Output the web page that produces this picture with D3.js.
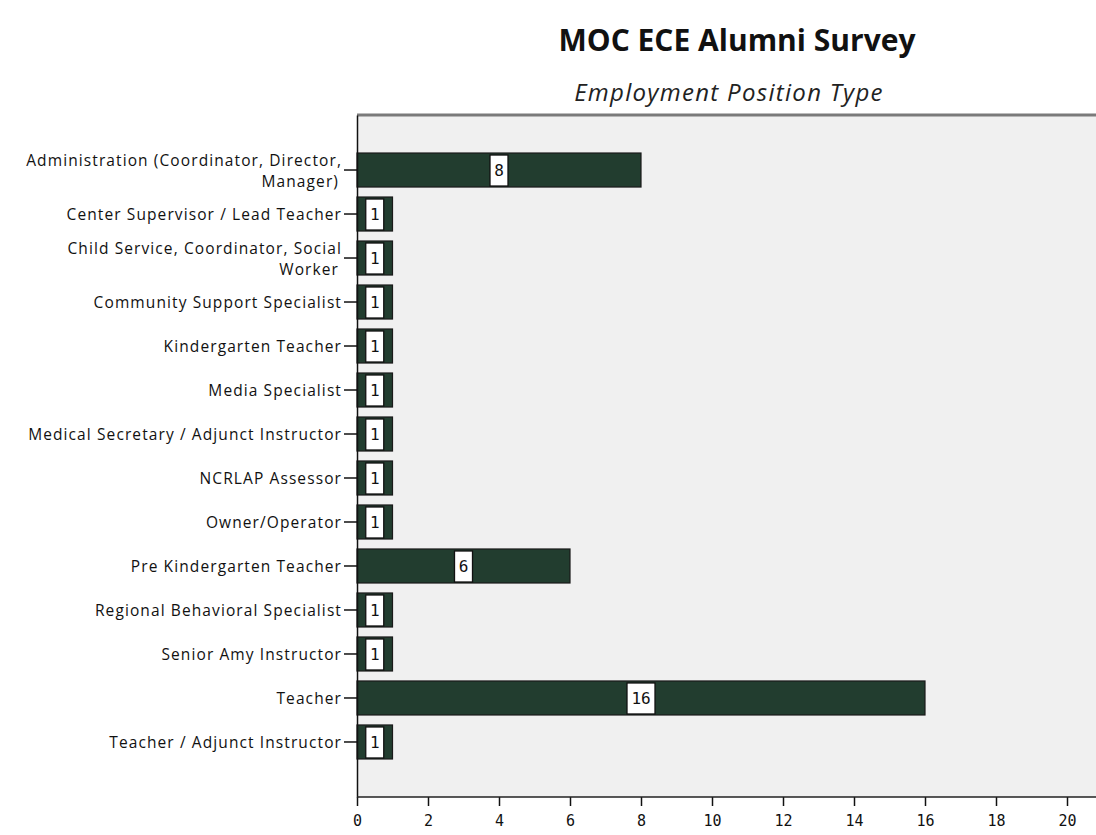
<!DOCTYPE html>
<html>
<head>
<meta charset="utf-8">
<script src="https://cdn.jsdelivr.net/npm/d3@7"></script>
<style>
  html, body { margin: 0; padding: 0; background: #ffffff; }
  svg { display: block; }
</style>
</head>
<body>
<svg id="chart" width="1096" height="835"></svg>
<script>
const categories = [
  "Administration (Coordinator, Director, Manager)",
  "Center Supervisor / Lead Teacher",
  "Child Service, Coordinator, Social Worker",
  "Community Support Specialist",
  "Kindergarten Teacher",
  "Media Specialist",
  "Medical Secretary / Adjunct Instructor",
  "NCRLAP Assessor",
  "Owner/Operator",
  "Pre Kindergarten Teacher",
  "Regional Behavioral Specialist",
  "Senior Amy Instructor",
  "Teacher",
  "Teacher / Adjunct Instructor"
];
const labelLines = [
  ["Administration (Coordinator, Director,", "Manager)"],
  ["Center Supervisor / Lead Teacher"],
  ["Child Service, Coordinator, Social", "Worker"],
  ["Community Support Specialist"],
  ["Kindergarten Teacher"],
  ["Media Specialist"],
  ["Medical Secretary / Adjunct Instructor"],
  ["NCRLAP Assessor"],
  ["Owner/Operator"],
  ["Pre Kindergarten Teacher"],
  ["Regional Behavioral Specialist"],
  ["Senior Amy Instructor"],
  ["Teacher"],
  ["Teacher / Adjunct Instructor"]
];
const counts = [8, 1, 1, 1, 1, 1, 1, 1, 1, 6, 1, 1, 16, 1];
const xTicks = [0, 2, 4, 6, 8, 10, 12, 14, 16, 18, 20];
const titleText = "MOC ECE Alumni Survey";
const subtitleText = "Employment Position Type";

(function () {
const svg = d3.select("#chart");
const pLeft = 357, pRight = 1110, pTop = 115, pBottom = 797;
const font = "'Open Sans', sans-serif";

const x = d3.scaleLinear().domain([0, 20]).range([pLeft, 1067]);
const y = d3.scaleBand().domain(categories).range([pTop, pBottom])
  .paddingInner(0.227).paddingOuter(0.864);

svg.append("rect").attr("x", pLeft).attr("y", pTop)
  .attr("width", pRight - pLeft).attr("height", pBottom - pTop)
  .attr("fill", "#f0f0f0");
svg.append("line").attr("x1", pLeft).attr("x2", 1096).attr("y1", pTop).attr("y2", pTop)
  .attr("stroke", "#7a7a7a").attr("stroke-width", 3);

svg.append("text").attr("x", 737).attr("y", 51).attr("text-anchor", "middle")
  .attr("font-family", "'Open Sans', sans-serif").attr("font-weight", "bold")
  .attr("font-size", 30).attr("letter-spacing", 0).attr("fill", "#111").text(titleText);
svg.append("text").attr("x", 729).attr("y", 101).attr("text-anchor", "middle")
  .attr("font-family", "'Open Sans', sans-serif").attr("font-style", "italic")
  .attr("font-size", 24).attr("letter-spacing", 1.3).attr("fill", "#222").text(subtitleText);

svg.append("g").selectAll("rect").data(categories).join("rect")
  .attr("x", x(0)).attr("y", d => y(d))
  .attr("width", (d, i) => x(counts[i]) - x(0))
  .attr("height", y.bandwidth())
  .attr("fill", "#223d2f").attr("stroke", "#1a1a1a").attr("stroke-width", 1.2);

const lab = svg.append("g").selectAll("g").data(categories).join("g")
  .attr("transform", (d, i) => `translate(${x(counts[i] / 2)},${y(d) + y.bandwidth() / 2})`);
lab.append("rect")
  .attr("x", (d, i) => counts[i] >= 10 ? -14 : -9)
  .attr("width", (d, i) => counts[i] >= 10 ? 28 : 18)
  .attr("y", -15).attr("height", 31)
  .attr("fill", "#ffffff").attr("stroke", "#111").attr("stroke-width", 1.3);
lab.append("text").attr("text-anchor", "middle").attr("dy", "0.36em")
  .attr("font-family", "'DejaVu Sans Mono', monospace").attr("font-size", 16)
  .attr("fill", "#111").text((d, i) => counts[i]);

const yAxis = d3.axisLeft(y).tickSize(13).tickSizeOuter(0).tickFormat("");
const gy = svg.append("g").attr("transform", `translate(${pLeft},0)`).call(yAxis);
gy.select(".domain").attr("stroke", "#111").attr("stroke-width", 1.5);
gy.selectAll(".tick line").attr("stroke", "#111").attr("stroke-width", 1.5);

const lines = [];
categories.forEach((c, i) => {
  const n = labelLines[i].length;
  labelLines[i].forEach((line, j) => {
    lines.push({cat: c, text: line, off: n > 1 ? (j === 0 ? -10 : 11) : 0, second: j > 0});
  });
});
svg.append("g").selectAll("text").data(lines).join("text")
  .attr("text-anchor", "end").attr("dominant-baseline", "central")
  .attr("font-family", font).attr("font-size", 15.5).attr("letter-spacing", 1.1).attr("fill", "#111")
  .attr("x", d => d.second ? 339 : 342)
  .attr("y", d => y(d.cat) + y.bandwidth() / 2 + d.off)
  .text(d => d.text);

const xAxis = d3.axisBottom(x).tickValues(xTicks).tickSize(9).tickSizeOuter(0).tickFormat(d3.format("d"));
const gx = svg.append("g").attr("transform", `translate(0,${pBottom})`).call(xAxis);
gx.select(".domain").remove();
svg.append("line").attr("x1", pLeft).attr("x2", 1096).attr("y1", pBottom).attr("y2", pBottom)
  .attr("stroke", "#222").attr("stroke-width", 1.5);
gx.selectAll(".tick line").attr("stroke", "#111").attr("stroke-width", 1.5);
gx.selectAll(".tick text").attr("font-family", "'DejaVu Sans Mono', monospace")
  .attr("font-size", 15).attr("fill", "#111").attr("dy", "1.15em");
})();
</script>
</body>
</html>
